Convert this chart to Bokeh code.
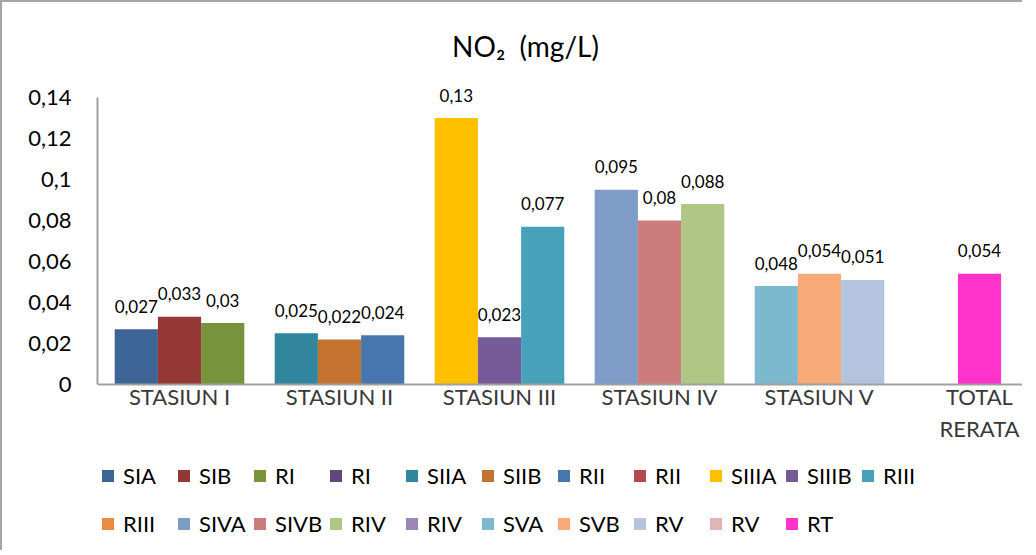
from bokeh.plotting import figure
from bokeh.models import ColumnDataSource, FixedTicker, Legend, LegendItem, Range1d, Label
from bokeh.embed import file_html
from bokeh.resources import INLINE
from bokeh.core.properties import value

# ---------------- data ----------------
title_text = "NO₂\u00a0 (mg/L)"
categories = ["STASIUN I", "STASIUN II", "STASIUN III", "STASIUN IV", "STASIUN V", "TOTAL\nRERATA"]

names_a = ["SIA", "SIIA", "SIIIA", "SIVA", "SVA"]
names_b = ["SIB", "SIIB", "SIIIB", "SIVB", "SVB"]
names_r = ["RI", "RII", "RIII", "RIV", "RV"]
total_name = "RT"

values_a = [0.027, 0.025, 0.13, 0.095, 0.048]
values_b = [0.033, 0.022, 0.023, 0.08, 0.054]
values_r = [0.03, 0.024, 0.077, 0.088, 0.051]
total_rerata = [0.054]

y_ticks = [0, 0.02, 0.04, 0.06, 0.08, 0.1, 0.12, 0.14]
y_tick_labels = ["0", "0,02", "0,04", "0,06", "0,08", "0,1", "0,12", "0,14"]

colors_a = ["#3C6496", "#31859C", "#FFC000", "#7F9CC8", "#7DB9CE"]
colors_b = ["#953735", "#C3732F", "#775B98", "#CB7C7B", "#F8A978"]
colors_r = ["#77933C", "#4775AE", "#47A1BB", "#AFC685", "#B4C3DE"]
colors_r2 = ["#604A7B", "#B64A48", "#E98B40", "#9D88B5", "#DFB7B6"]
color_total = "#FF33CC"

FONT = "Lato"

def fmt(v):
    return str(v).replace(".", ",")

# ---------------- layout ----------------
W, H = 1022, 550
LEFT = 95
PX = 287.0 / max(y_ticks)          # pixels per data unit on y
ZERO_FROM_TOP = 382                 # canvas px from top to y = 0
X0_PX = 82.0                        # px from frame left to first category centre
X_STEP = 160.0                      # px per category
x_start = -X0_PX / X_STEP
x_end = x_start + (W - LEFT) / X_STEP

p = figure(width=W, height=H, output_backend="svg", toolbar_location=None,
           x_range=Range1d(x_start, x_end),
           y_range=Range1d(-(H - ZERO_FROM_TOP) / PX, ZERO_FROM_TOP / PX),
           min_border_left=LEFT, min_border_right=0, min_border_top=0, min_border_bottom=0)
p.styles = {"border-left": "2px solid #a6a6a6", "border-top": "2px solid #a6a6a6"}
p.outline_line_color = None
p.grid.visible = False
p.background_fill_color = "white"

p.add_layout(Label(x=428, y=H - 43, x_units="screen", y_units="screen", text=title_text,
                   text_font=FONT, text_font_size="28px", text_color="#000000",
                   text_align="center", text_baseline="middle"))

# axes
p.yaxis.ticker = FixedTicker(ticks=y_ticks)
p.yaxis.bounds = (min(y_ticks), max(y_ticks))
p.yaxis.major_label_overrides = dict(zip(y_ticks, y_tick_labels))
p.yaxis.major_label_text_font = FONT
p.yaxis.major_label_text_font_size = "22px"
p.yaxis.major_label_text_color = "#000000"
p.yaxis.major_label_standoff = 26
p.yaxis.major_tick_out = 0
p.yaxis.major_tick_in = 0
p.yaxis.minor_tick_out = 0
p.yaxis.minor_tick_in = 0
p.yaxis.axis_line_color = "#a0a0a0"
p.yaxis.axis_line_width = 2

idx = list(range(len(categories)))
p.xaxis.fixed_location = 0
p.xaxis.ticker = FixedTicker(ticks=idx)
p.xaxis.major_label_overrides = dict(zip(idx, categories))
p.xaxis.major_label_text_font = FONT
p.xaxis.major_label_text_font_size = "22px"
p.xaxis.major_label_text_color = "#383838"
p.xaxis.major_label_standoff = -2
p.xaxis.major_tick_out = 0
p.xaxis.major_tick_in = 0
p.xaxis.minor_tick_out = 0
p.xaxis.minor_tick_in = 0
p.xaxis.axis_line_color = "#a0a0a0"
p.xaxis.axis_line_width = 2

bar_w = 0.27
offsets = [-bar_w, 0.0, bar_w]
items = []

def add_bar(x, top, color, label):
    src = ColumnDataSource(dict(x=x, top=top, label=[fmt(v) for v in top]))
    r = p.vbar(x="x", top="top", width=bar_w, source=src, fill_color=color, line_color=None)
    p.text(x="x", y="top", text="label", source=src, text_font=value(FONT),
           text_font_size="17px", text_align="center", text_baseline="middle",
           y_offset=-23, text_color="#000000")
    items.append(LegendItem(label=label, renderers=[r]))

for k in range(5):
    series = [(values_a, names_a, colors_a), (values_b, names_b, colors_b), (values_r, names_r, colors_r)]
    for j, (vals, names, cols) in enumerate(series):
        add_bar([k + offsets[j]], [vals[k]], cols[k], names[k])
    # second "R" series of each station has no plotted value
    src = ColumnDataSource(dict(x=[k], top=[float("nan")]))
    r = p.vbar(x="x", top="top", width=bar_w, source=src, fill_color=colors_r2[k], line_color=None)
    items.append(LegendItem(label=names_r[k], renderers=[r]))

add_bar([categories.index("TOTAL\nRERATA")], total_rerata, color_total, total_name)

per_row = 11
row_y = [H - 474 - 13, H - 522 - 13]
for row in range(2):
    lg = Legend(items=items[row * per_row:(row + 1) * per_row], orientation="horizontal",
                location=(3, row_y[row]),
                glyph_width=15, glyph_height=15, label_standoff=8, label_width=48,
                spacing=5, padding=6, margin=0,
                label_text_font=FONT, label_text_font_size="22px", label_text_color="#000000",
                border_line_color=None, background_fill_alpha=0)
    p.add_layout(lg)

open("out.html", "w").write(file_html(p, INLINE))
